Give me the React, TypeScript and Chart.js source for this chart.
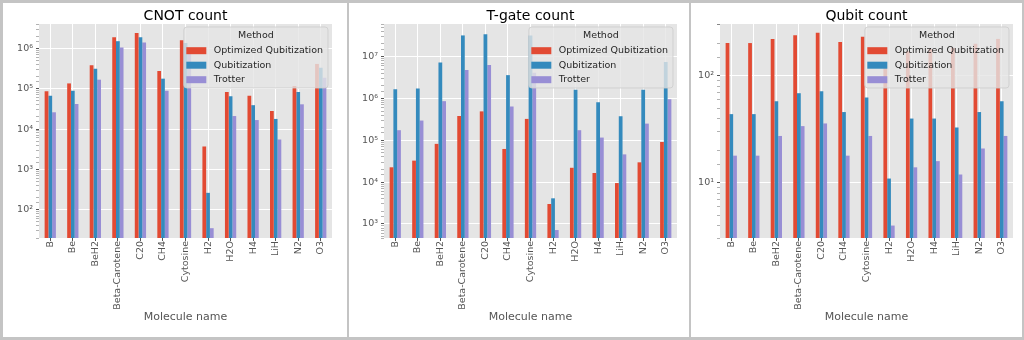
import React, { useEffect, useRef } from 'react';
import { Chart, registerables } from 'chart.js';

Chart.register(...registerables);

const FONT = "'DejaVu Sans', 'Liberation Sans', sans-serif";

const categories = ['B', 'Be', 'BeH2', 'Beta-Carotene', 'C20', 'CH4', 'Cytosine', 'H2', 'H2O', 'H4', 'LiH', 'N2', 'O3'];
const methods = ['Optimized Qubitization', 'Qubitization', 'Trotter'];
const methodColors = ['#E24A33', '#348ABD', '#988ED5'];

const cnotOptQub = [86000, 135000, 380000, 1870000, 2400000, 274000, 1580000, 3700, 83000, 67000, 28000, 116000, 410000];
const cnotQub = [67000, 89000, 310000, 1500000, 1870000, 177000, 1350000, 263, 65000, 39000, 17800, 83000, 330000];
const cnotTrotter = [26000, 42000, 167000, 1040000, 1400000, 89000, 1000000, 35, 21000, 16700, 5500, 41000, 187000];

const tgateOptQub = [22600, 32600, 82000, 380000, 490000, 62000, 324000, 3000, 22000, 16500, 9500, 29700, 91000];
const tgateQub = [1660000, 1720000, 7200000, 32000000, 34000000, 3600000, 32000000, 4100, 1600000, 810000, 375000, 1600000, 7400000];
const tgateTrotter = [174000, 296000, 860000, 4800000, 6300000, 640000, 4100000, 716, 174000, 116000, 46000, 250000, 960000];

const qubitOptQub = [203, 203, 222, 240, 253, 208, 233, 123, 170, 179, 183, 200, 222];
const qubitQub = [44, 44, 58, 69, 72, 46, 63, 11, 40, 40, 33, 46, 58];
const qubitTrotter = [18, 18, 27.5, 34, 36, 18, 27.5, 4, 14, 16, 12, 21, 27.5];

const SUP = ['⁰', '¹', '²', '³', '⁴', '⁵', '⁶', '⁷', '⁸', '⁹'];

function isPow10(v: number): boolean {
  if (!(v > 0)) return false;
  const l = Math.log10(v);
  return Math.abs(l - Math.round(l)) < 1e-9;
}

function powLabel(v: number): string {
  const e = Math.round(Math.log10(v));
  return '10' + String(e).split('').map((c) => (c === '-' ? '⁻' : SUP[Number(c)])).join('');
}

const bgPlugin = {
  id: 'ggBg',
  beforeDraw(chart: any) {
    const { ctx, chartArea: a } = chart;
    ctx.save();
    ctx.fillStyle = '#E5E5E5';
    ctx.fillRect(a.left, a.top, a.right - a.left, a.bottom - a.top);
    ctx.restore();
  },
};

const boxLegendPlugin = {
  id: 'boxLegend',
  afterDraw(chart: any) {
    const { ctx, chartArea: a } = chart;
    const ds = chart.data.datasets;
    ctx.save();
    ctx.font = `9.5px ${FONT}`;
    const tw = Math.max(...ds.map((d: any) => ctx.measureText(d.label).width));
    const w = 30 + tw + 5;
    const h = 61;
    const x = a.right - 4 - w;
    const y = a.top + 3;
    const r = 3;
    ctx.beginPath();
    ctx.moveTo(x + r, y);
    ctx.lineTo(x + w - r, y);
    ctx.quadraticCurveTo(x + w, y, x + w, y + r);
    ctx.lineTo(x + w, y + h - r);
    ctx.quadraticCurveTo(x + w, y + h, x + w - r, y + h);
    ctx.lineTo(x + r, y + h);
    ctx.quadraticCurveTo(x, y + h, x, y + h - r);
    ctx.lineTo(x, y + r);
    ctx.quadraticCurveTo(x, y, x + r, y);
    ctx.closePath();
    ctx.fillStyle = 'rgba(229,229,229,0.8)';
    ctx.fill();
    ctx.strokeStyle = 'rgba(204,204,204,0.8)';
    ctx.lineWidth = 1;
    ctx.stroke();
    ctx.fillStyle = '#262626';
    ctx.textBaseline = 'middle';
    ctx.textAlign = 'center';
    ctx.fillText('Method', x + w / 2, y + 9);
    ctx.textAlign = 'left';
    ds.forEach((d: any, i: number) => {
      const cy = y + 23.7 + i * 14.5;
      ctx.fillStyle = d.backgroundColor;
      ctx.fillRect(x + 2.5, cy - 3.5, 20, 7);
      ctx.fillStyle = '#262626';
      ctx.fillText(d.label, x + 30, cy);
    });
    ctx.restore();
  },
};

type PanelProps = {
  title: string;
  series: number[][];
  yMin: number;
  yMax: number;
  width: number;
  height: number;
  yWidth: number;
  padRight: number;
};

function Panel({ title, series, yMin, yMax, width, height, yWidth, padRight }: PanelProps) {
  const ref = useRef<HTMLCanvasElement | null>(null);
  useEffect(() => {
    if (!ref.current) return;
    const chart = new Chart(ref.current, {
      type: 'bar',
      data: {
        labels: categories,
        datasets: series.map((vals, i) => ({
          label: methods[i],
          data: vals,
          backgroundColor: methodColors[i],
          borderWidth: 0,
          categoryPercentage: 0.5,
          barPercentage: 1,
        })),
      },
      options: {
        animation: false,
        responsive: false,
        maintainAspectRatio: false,
        layout: { padding: { left: 4, right: padRight, top: 0, bottom: 0 } },
        plugins: {
          legend: { display: false },
          tooltip: { enabled: false },
          title: {
            display: true,
            text: title,
            fullSize: false,
            color: '#000000',
            font: { family: FONT, size: 14, weight: 'normal', lineHeight: 1 },
            padding: { top: 6.5, bottom: 0.5 },
          },
        },
        scales: {
          x: {
            grid: {
              display: true,
              color: '#FFFFFF',
              lineWidth: 1,
              offset: false,
              drawTicks: true,
              tickLength: 3,
              tickColor: '#555555',
            },
            border: { display: false },
            ticks: {
              color: '#555555',
              font: { family: FONT, size: 9.5 },
              maxRotation: 90,
              minRotation: 90,
              padding: 0,
              autoSkip: false,
            },
            title: {
              display: true,
              text: 'Molecule name',
              color: '#555555',
              font: { family: FONT, size: 11, lineHeight: 1.2 },
              padding: { top: 0, bottom: 13.4 },
            },
            afterFit: (s: any) => {
              s.height = 99;
            },
          },
          y: {
            type: 'logarithmic',
            min: yMin,
            max: yMax,
            grid: {
              color: (c: any) => (c.tick && isPow10(c.tick.value) ? '#FFFFFF' : 'rgba(0,0,0,0)'),
              tickColor: (c: any) => (c.tick && isPow10(c.tick.value) ? '#555555' : 'rgba(85,85,85,0.45)'),
              tickLength: 3,
              lineWidth: 1,
            },
            border: { display: false },
            ticks: {
              autoSkip: false,
              padding: 3,
              color: '#555555',
              font: { family: FONT, size: 9.5 },
              callback: (v: any) => (isPow10(Number(v)) ? powLabel(Number(v)) : ''),
            },
            afterFit: (s: any) => {
              s.width = yWidth;
            },
          },
        },
      } as any,
      plugins: [bgPlugin, boxLegendPlugin],
    });
    return () => chart.destroy();
  }, []);
  return <canvas ref={ref} width={width} height={height} style={{ display: 'block' }} />;
}

export default function App() {
  const border = '#C4C4C4';
  return (
    <div style={{ position: 'relative', width: 1024, height: 340, background: border, overflow: 'hidden' }}>
      <style>{`body{margin:0;}`}</style>
      <div style={{ position: 'absolute', left: 3, top: 3, width: 344, height: 334, background: '#fff' }}>
        <Panel title="CNOT count" series={[cnotOptQub, cnotQub, cnotTrotter]} yMin={20} yMax={4.0e6}
          width={344} height={334} yWidth={32} padRight={15} />
      </div>
      <div style={{ position: 'absolute', left: 349, top: 3, width: 340, height: 334, background: '#fff' }}>
        <Panel title="T-gate count" series={[tgateOptQub, tgateQub, tgateTrotter]} yMin={462} yMax={6.0e7}
          width={340} height={334} yWidth={31} padRight={12} />
      </div>
      <div style={{ position: 'absolute', left: 691, top: 3, width: 331, height: 334, background: '#fff' }}>
        <Panel title="Qubit count" series={[qubitOptQub, qubitQub, qubitTrotter]} yMin={3.06} yMax={306}
          width={331} height={334} yWidth={25} padRight={9} />
      </div>
    </div>
  );
}
